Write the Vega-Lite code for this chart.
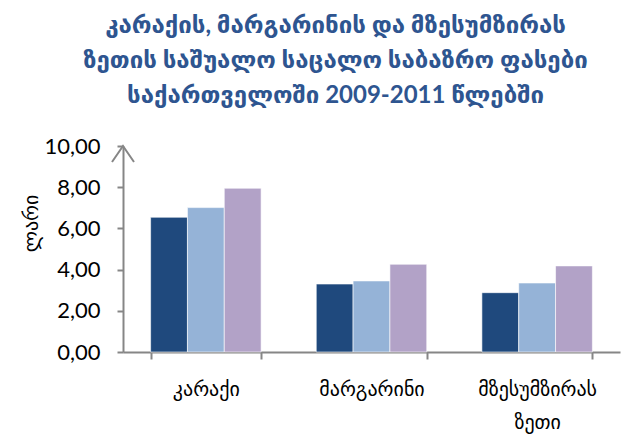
{
  "$schema": "https://vega.github.io/schema/vega-lite/v6.json",
  "width": 497,
  "height": 206,
  "autosize": "none",
  "padding": {"left": 123, "top": 146, "right": 17, "bottom": 89},
  "background": "white",
  "config": {
    "locale": {"number": {"decimal": ",", "thousands": " ", "grouping": [3], "currency": ["", ""]}},
    "view": {"stroke": null},
    "font": "Lato, DejaVu Sans"
  },
  "title": {
    "text": ["კარაქის, მარგარინის და მზესუმზირას", "ზეთის საშუალო საცალო საბაზრო ფასები", "საქართველოში 2009-2011 წლებში"],
    "fontSize": 24,
    "fontWeight": "bold",
    "color": "#2E5590",
    "lineHeight": 35,
    "anchor": "middle",
    "dx": -36,
    "offset": 27
  },
  "data": {
    "values": [
      {"product": "კარაქი", "year": "2009", "price": 6.54},
      {"product": "კარაქი", "year": "2010", "price": 7.01},
      {"product": "კარაქი", "year": "2011", "price": 7.95},
      {"product": "მარგარინი", "year": "2009", "price": 3.30},
      {"product": "მარგარინი", "year": "2010", "price": 3.45},
      {"product": "მარგარინი", "year": "2011", "price": 4.26},
      {"product": "მზესუმზირას ზეთი", "year": "2009", "price": 2.88},
      {"product": "მზესუმზირას ზეთი", "year": "2010", "price": 3.35},
      {"product": "მზესუმზირას ზეთი", "year": "2011", "price": 4.18}
    ]
  },
  "layer": [
    {
      "mark": {"type": "bar", "stroke": "white", "strokeWidth": 0.6},
      "encoding": {
        "x": {
          "field": "product",
          "type": "nominal",
          "sort": ["კარაქი", "მარგარინი", "მზესუმზირას ზეთი"],
          "scale": {"paddingInner": 0.333, "paddingOuter": 0.1667},
          "axis": {
            "title": null,
            "labelAngle": 0,
            "labelFontSize": 20,
            "labelColor": "#000000",
            "labelPadding": 20,
            "labelLineHeight": 33,
            "labelExpr": "split(datum.label, ' ')",
            "tickBand": "extent",
            "tickSize": 7,
            "tickColor": "#868686",
            "tickWidth": 2,
            "domainColor": "#868686",
            "domainWidth": 2
          }
        },
        "xOffset": {"field": "year", "type": "nominal", "scale": {"paddingInner": 0, "paddingOuter": 0}},
        "y": {
          "field": "price",
          "type": "quantitative",
          "scale": {"domain": [0, 10]},
          "axis": {
            "title": "ლარი",
            "titleFontSize": 20,
            "titleFontWeight": "normal",
            "titleColor": "#000000",
            "titlePadding": 2,
            "titleY": 77,
            "values": [0, 2, 4, 6, 8, 10],
            "format": ".2f",
            "labelFontSize": 22,
            "labelColor": "#000000",
            "labelPadding": 17,
            "tickSize": 6,
            "tickColor": "#868686",
            "tickWidth": 2,
            "domainColor": "#868686",
            "domainWidth": 2,
            "grid": false
          }
        },
        "color": {
          "field": "year",
          "type": "nominal",
          "scale": {"domain": ["2009", "2010", "2011"], "range": ["#1F497D", "#95B3D7", "#B2A2C7"]},
          "legend": null
        }
      }
    },
    {
      "data": {"values": [{"edge": 0, "top": 10}]},
      "mark": {"type": "point", "shape": "M-1,1.45L0,0L1,1.45", "filled": false, "stroke": "#868686", "strokeWidth": 2, "size": 484, "opacity": 1},
      "encoding": {
        "x": {"field": "edge", "type": "quantitative", "scale": {"domain": [0, 1]}, "axis": null},
        "y": {"field": "top", "type": "quantitative"}
      }
    }
  ],
  "resolve": {"scale": {"x": "independent"}}
}
